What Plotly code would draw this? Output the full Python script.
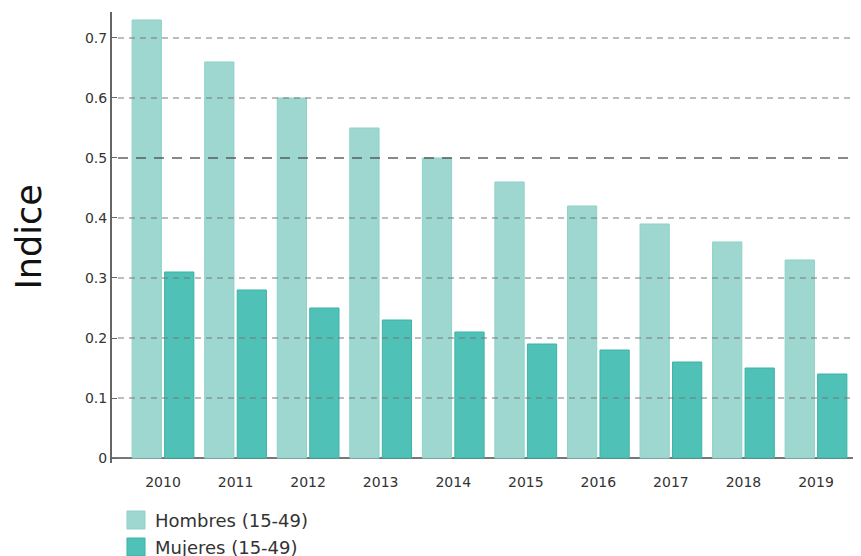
import plotly.graph_objects as go

years = ["2010", "2011", "2012", "2013", "2014", "2015", "2016", "2017", "2018", "2019"]
hombres = [0.73, 0.66, 0.60, 0.55, 0.50, 0.46, 0.42, 0.39, 0.36, 0.33]
mujeres = [0.31, 0.28, 0.25, 0.23, 0.21, 0.19, 0.18, 0.16, 0.15, 0.14]
grid_vals = [0.1, 0.2, 0.3, 0.4, 0.5, 0.6, 0.7]
series_names = ["Hombres (15-49)", "Mujeres (15-49)"]
series_colors = ["#9dd7cf", "#4fc1b6"]
series_lines = ["#8fd2c8", "#3db3a7"]

fig = go.Figure()
for name, vals, c, lc in zip(series_names, [hombres, mujeres], series_colors, series_lines):
    fig.add_trace(go.Bar(x=years, y=vals, name=name, showlegend=False,
                         marker=dict(color=c, line=dict(color=lc, width=1))))

# dashed grid drawn over the bars, the 0.5 line darker
for v in grid_vals:
    if v == 0.5:
        col, dash = "rgba(70,70,70,0.85)", "10px,8px"
    else:
        col, dash = "rgba(120,120,120,0.65)", "6px,5px"
    fig.add_shape(type="line", xref="paper", yref="y", x0=0.008, x1=1.02, y0=v, y1=v,
                  line=dict(color=col, width=1.5, dash=dash), layer="above")

# legend drawn by hand (it runs off the bottom of the image in the original)
leg_y = [-0.1064, -0.1663]
for i, name in enumerate(series_names):
    fig.add_shape(type="rect", xref="paper", yref="paper",
                  x0=0.02, x1=0.0441, y0=leg_y[i], y1=leg_y[i] - 0.04,
                  fillcolor=series_colors[i], line=dict(color=series_lines[i], width=1))
    fig.add_annotation(text=name, xref="paper", yref="paper", x=0.0547, y=leg_y[i] - 0.02,
                       xanchor="left", yanchor="middle", showarrow=False,
                       font=dict(size=18, color="#333"))

# y title as annotation so it doesn't push the margin
fig.add_annotation(text="Indice", xref="paper", yref="paper", x=0, y=0.5,
                   xanchor="center", xshift=-84, textangle=-90, showarrow=False,
                   font=dict(size=35, color="#111"))

# page body has an 8px margin, so the margins are shifted to compensate
fig.update_layout(
    width=861, height=556,
    margin=dict(l=104, r=8, t=4, b=101),
    plot_bgcolor="white", paper_bgcolor="white",
    font=dict(family="DejaVu Sans", color="#333"),
    barmode="group", bargap=0.104, bargroupgap=0.1,
    showlegend=False,
)
fig.update_xaxes(range=[-0.703, 9.62], showgrid=False, showline=False,
                 ticks="", tickfont=dict(size=14), ticklabelstandoff=9,
                 automargin=False)
fig.update_yaxes(range=[-0.00833, 0.7433], showgrid=False, automargin=False,
                 showline=True, linecolor="#666", linewidth=2,
                 zeroline=True, zerolinecolor="#777", zerolinewidth=2,
                 ticks="inside", ticklen=5, tickcolor="#666",
                 tickvals=[0] + grid_vals, ticktext=["0", "0.1", "0.2", "0.3", "0.4", "0.5", "0.6", "0.7"],
                 tickfont=dict(size=14))

fig.write_html("out.html")
